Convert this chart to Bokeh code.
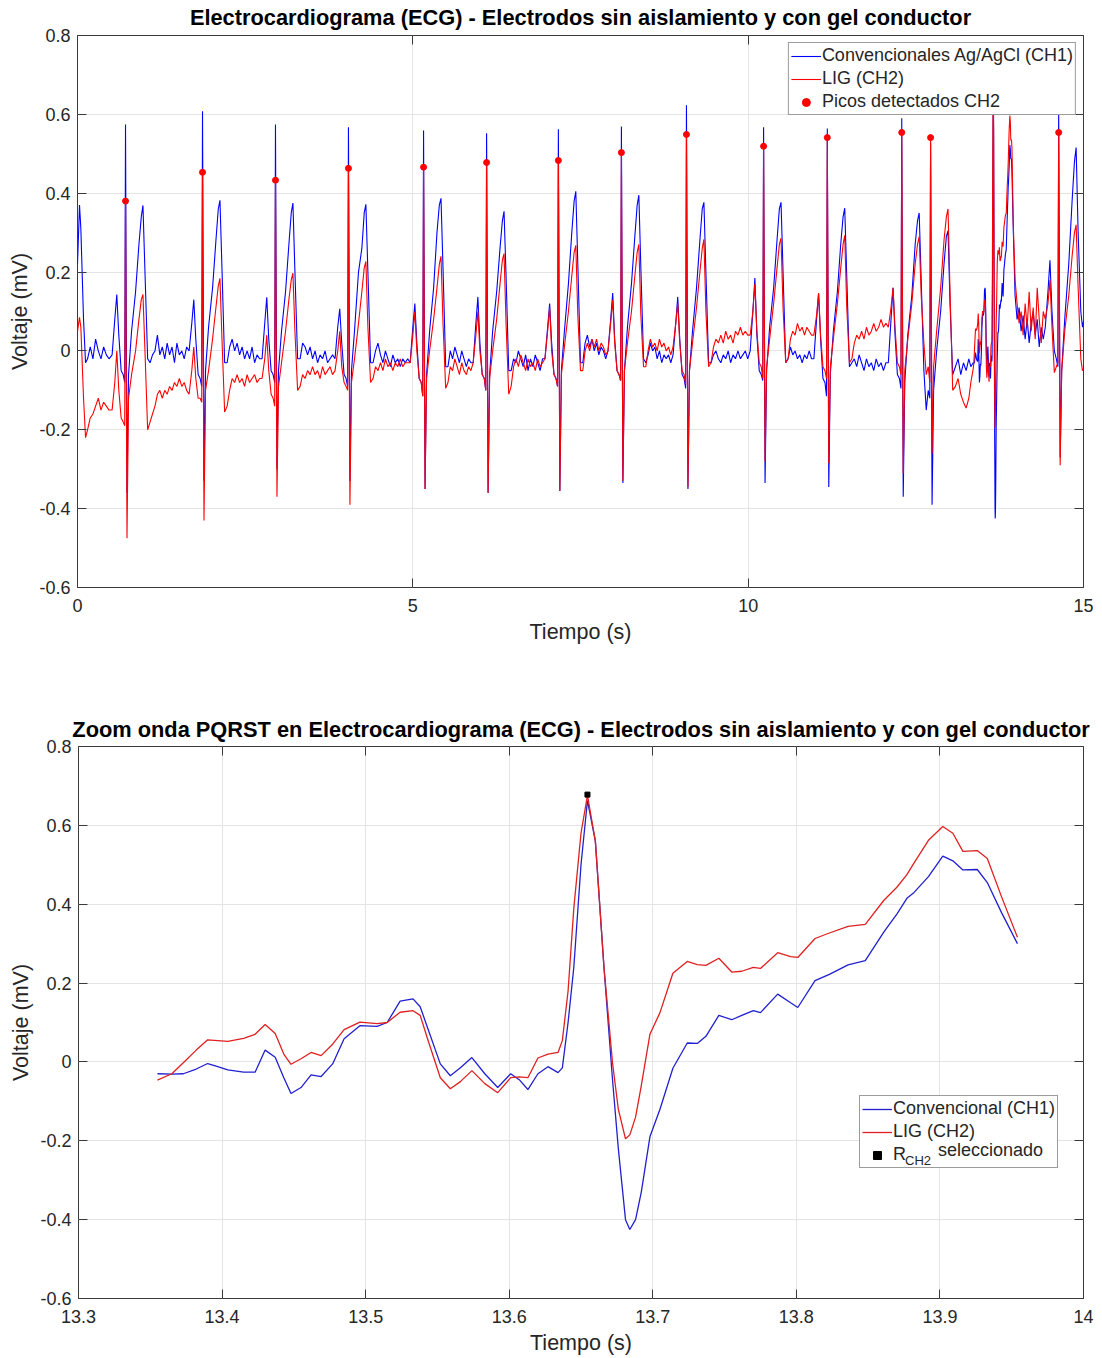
import numpy as np
from bokeh.plotting import figure
from bokeh.layouts import column, row
from bokeh.models import (Legend, LegendItem, LinearAxis, FixedTicker, Range1d, Title, Spacer)
from bokeh.embed import file_html
from bokeh.resources import INLINE

# ------------------------------------------------------------------ data
# start of record (before first R)
start_t = [0.00, 0.03, 0.05, 0.09, 0.12, 0.15, 0.19, 0.23, 0.27, 0.31, 0.35, 0.39, 0.43, 0.47]
start_ch1 = [0.22, 0.37, 0.31, 0.08, -0.03, -0.02, 0.01, -0.02, 0.03, 0.00, -0.02, 0.01, -0.01, -0.02]
start_ch2 = [0.05, 0.085, 0.06, -0.12, -0.22, -0.20, -0.17, -0.16, -0.14, -0.12, -0.15, -0.13, -0.14, -0.15]

# regular beats: R times and samples at fixed offsets around each R
r_times = [0.716, 1.864, 2.952, 4.04, 5.16, 6.10, 7.17, 8.11, 9.08, 10.23, 11.18]
beat_offsets = [-0.20, -0.16, -0.13, -0.10, -0.065, -0.035, -0.012, 0.0, 0.022, 0.045,
                0.09, 0.15, 0.20, 0.235, 0.26, 0.29, 0.33]
beats_ch1 = [
    [-0.01, 0.08, 0.143, 0.04, -0.05, -0.06, -0.08, 0.574, -0.36, -0.06, 0.05, 0.15, 0.27, 0.34, 0.369, 0.20, -0.02],
    [0.00, 0.07, 0.13, 0.03, -0.06, -0.07, -0.09, 0.608, -0.33, -0.05, 0.06, 0.16, 0.28, 0.36, 0.382, 0.21, -0.03],
    [-0.02, 0.07, 0.136, 0.03, -0.05, -0.06, -0.08, 0.574, -0.30, -0.05, 0.05, 0.15, 0.27, 0.35, 0.375, 0.20, -0.02],
    [-0.02, 0.06, 0.107, 0.02, -0.06, -0.07, -0.09, 0.567, -0.33, -0.05, 0.05, 0.20, 0.26, 0.35, 0.372, 0.20, -0.03],
    [-0.03, 0.06, 0.12, 0.02, -0.07, -0.08, -0.115, 0.559, -0.35, -0.06, 0.05, 0.16, 0.30, 0.37, 0.387, 0.21, -0.04],
    [-0.03, 0.07, 0.137, 0.02, -0.06, -0.07, -0.10, 0.552, -0.36, -0.06, 0.05, 0.15, 0.26, 0.33, 0.354, 0.19, -0.05],
    [-0.02, 0.06, 0.12, 0.02, -0.06, -0.07, -0.09, 0.562, -0.355, -0.05, 0.05, 0.17, 0.30, 0.38, 0.405, 0.22, -0.03],
    [0.00, 0.08, 0.147, 0.03, -0.05, -0.06, -0.075, 0.569, -0.335, -0.05, 0.06, 0.17, 0.29, 0.37, 0.395, 0.21, -0.02],
    [-0.01, 0.07, 0.137, 0.03, -0.06, -0.07, -0.095, 0.623, -0.35, -0.05, 0.05, 0.16, 0.28, 0.36, 0.377, 0.20, -0.03],
    [0.00, 0.10, 0.185, 0.04, -0.05, -0.06, -0.075, 0.567, -0.335, -0.05, 0.06, 0.16, 0.28, 0.36, 0.377, 0.20, -0.03],
    [-0.02, 0.08, 0.146, 0.03, -0.07, -0.08, -0.115, 0.564, -0.345, -0.06, 0.05, 0.15, 0.27, 0.34, 0.362, 0.19, -0.04],
]
beats_ch2 = [
    [-0.15, -0.08, 0.00, -0.10, -0.17, -0.18, -0.19, 0.38, -0.475, -0.12, -0.06, 0.00, 0.08, 0.13, 0.143, 0.00, -0.20],
    [-0.11, -0.05, 0.01, -0.07, -0.12, -0.12, -0.13, 0.453, -0.43, -0.10, -0.05, 0.03, 0.11, 0.165, 0.184, 0.03, -0.155],
    [-0.07, -0.02, 0.04, -0.05, -0.11, -0.12, -0.14, 0.433, -0.37, -0.09, -0.03, 0.05, 0.13, 0.18, 0.197, 0.05, -0.10],
    [-0.05, 0.00, 0.05, -0.04, -0.08, -0.09, -0.10, 0.463, -0.39, -0.08, -0.02, 0.07, 0.15, 0.21, 0.227, 0.06, -0.08],
    [-0.03, 0.04, 0.10, 0.00, -0.07, -0.08, -0.115, 0.466, -0.35, -0.07, 0.00, 0.08, 0.16, 0.22, 0.24, 0.07, -0.095],
    [-0.03, 0.04, 0.10, 0.00, -0.06, -0.07, -0.10, 0.478, -0.36, -0.07, 0.00, 0.08, 0.17, 0.23, 0.247, 0.07, -0.11],
    [-0.02, 0.05, 0.11, 0.00, -0.06, -0.07, -0.09, 0.483, -0.355, -0.06, 0.01, 0.10, 0.19, 0.25, 0.268, 0.09, -0.05],
    [0.00, 0.07, 0.13, 0.02, -0.05, -0.06, -0.075, 0.503, -0.33, -0.05, 0.02, 0.10, 0.19, 0.25, 0.27, 0.09, -0.04],
    [0.01, 0.07, 0.12, 0.02, -0.05, -0.06, -0.085, 0.549, -0.345, -0.05, 0.02, 0.11, 0.20, 0.26, 0.283, 0.10, -0.04],
    [0.04, 0.10, 0.17, 0.05, -0.03, -0.04, -0.07, 0.519, -0.28, -0.04, 0.03, 0.12, 0.21, 0.27, 0.286, 0.11, -0.03],
    [0.04, 0.09, 0.146, 0.04, -0.04, -0.05, -0.07, 0.541, -0.285, -0.04, 0.03, 0.12, 0.21, 0.27, 0.293, 0.11, -0.03],
]
# baseline samples between consecutive beats (evenly spaced in each gap)
gaps_ch1 = [
    [-0.03, -0.01, 0.00, 0.04, -0.01, 0.01, -0.02, 0.02, -0.01, 0.01, -0.03, 0.02, -0.01, 0.00, -0.02, 0.01],
    [-0.03, 0.01, 0.03, 0.00, 0.02, -0.01, 0.01, -0.02, 0.00, -0.02, 0.01, -0.03, -0.01, -0.02],
    [-0.02, 0.02, 0.01, -0.01, 0.01, -0.02, 0.00, -0.03, -0.01, -0.02, 0.00, -0.03, -0.02, -0.01],
    [-0.03, 0.00, 0.02, -0.01, -0.03, 0.00, -0.02, -0.04, -0.01, -0.03, -0.02, -0.04, -0.02, -0.03, -0.02],
    [-0.04, 0.00, -0.02, 0.01, -0.01, -0.03, 0.00, -0.02, -0.04, -0.02, -0.03],
    [-0.05, -0.02, -0.03, 0.00, -0.02, -0.04, -0.01, -0.05, -0.02, -0.04, -0.01, -0.03, -0.05, -0.02],
    [-0.03, 0.02, 0.04, 0.01, 0.03, 0.00, 0.02, -0.01, 0.01, 0.00, -0.02],
    [-0.03, -0.01, 0.02, 0.00, 0.01, -0.02, 0.00, -0.03, -0.01, -0.02, -0.01, -0.03],
    [-0.03, -0.01, 0.00, -0.02, -0.03, -0.01, -0.02, 0.00, -0.03, -0.01, -0.02, 0.00, -0.02, -0.01, 0.00, -0.02],
    [-0.02, 0.01, -0.01, 0.00, -0.02, -0.01, -0.03, -0.01, -0.02, 0.00, -0.02],
    [-0.03, -0.02, -0.04, -0.01, -0.03, -0.05, -0.02, -0.04, -0.03, -0.05, -0.02, -0.04, -0.03, -0.05, -0.03],
]
gaps_ch2 = [
    [-0.18, -0.16, -0.14, -0.11, -0.10, -0.12, -0.10, -0.11, -0.09, -0.10, -0.08, -0.09, -0.07, -0.09, -0.08, -0.10],
    [-0.14, -0.10, -0.07, -0.08, -0.06, -0.08, -0.07, -0.09, -0.06, -0.08, -0.07, -0.06, -0.08, -0.07],
    [-0.09, -0.06, -0.07, -0.05, -0.06, -0.04, -0.06, -0.05, -0.07, -0.04, -0.06, -0.05, -0.04, -0.06],
    [-0.07, -0.04, -0.05, -0.03, -0.05, -0.02, -0.04, -0.03, -0.05, -0.03, -0.04, -0.02, -0.04, -0.03, -0.03],
    [-0.08, -0.04, -0.05, -0.02, -0.04, -0.06, -0.03, -0.05, -0.06, -0.04, -0.05],
    [-0.09, -0.04, -0.02, -0.04, -0.01, -0.03, -0.05, -0.02, -0.04, -0.03, -0.05, -0.02, -0.04, -0.03],
    [-0.05, 0.00, 0.02, 0.00, 0.03, 0.01, 0.03, 0.00, 0.02, 0.01, -0.01],
    [-0.04, 0.00, 0.03, 0.01, 0.02, 0.00, 0.03, 0.01, 0.02, 0.00, 0.01, -0.01],
    [-0.03, 0.01, 0.03, 0.02, 0.04, 0.02, 0.05, 0.03, 0.04, 0.02, 0.05, 0.04, 0.06, 0.04, 0.05, 0.04],
    [-0.02, 0.03, 0.05, 0.04, 0.07, 0.05, 0.06, 0.04, 0.06, 0.05, 0.04],
    [-0.02, 0.02, 0.04, 0.03, 0.05, 0.03, 0.06, 0.04, 0.05, 0.07, 0.05, 0.06, 0.08, 0.06, 0.07],
]
# beats 12 and 13 (premature) and the baseline after them
mid_t = [12.09, 12.13, 12.16, 12.19, 12.225, 12.255, 12.278, 12.29, 12.312, 12.335, 12.38, 12.44, 12.49,
         12.525, 12.55, 12.58, 12.62, 12.655, 12.685, 12.708, 12.72, 12.742, 12.765, 12.81, 12.87, 12.92,
         12.955, 12.98, 13.01, 13.05, 13.09, 13.13, 13.17, 13.21, 13.25, 13.29, 13.32]
mid_ch1 = [-0.03, 0.08, 0.16, 0.04, -0.06, -0.07, -0.095, 0.59, -0.37, -0.08, 0.04, 0.14, 0.27, 0.33, 0.35,
           0.18, -0.05, -0.15, -0.10, -0.12, 0.53, -0.39, -0.10, 0.00, 0.10, 0.22, 0.29, 0.305, 0.12, -0.06,
           -0.04, -0.02, -0.06, -0.03, -0.05, -0.02, -0.04]
mid_ch2 = [0.06, 0.11, 0.16, 0.06, -0.03, -0.04, -0.06, 0.554, -0.31, -0.05, 0.03, 0.12, 0.22, 0.27, 0.29,
           0.14, 0.02, -0.06, -0.04, -0.08, 0.541, -0.26, -0.04, 0.05, 0.16, 0.28, 0.34, 0.36, 0.15, -0.10,
           -0.09, -0.07, -0.11, -0.13, -0.145, -0.12, -0.08]
# PQRST wave shown in the zoom
zoom_t = [13.355, 13.365, 13.373, 13.382, 13.390, 13.397, 13.404, 13.415, 13.423, 13.430, 13.437, 13.443,
          13.448, 13.455, 13.462, 13.469, 13.477, 13.485, 13.496, 13.508, 13.515, 13.524, 13.533, 13.538,
          13.543, 13.552, 13.559, 13.566, 13.574, 13.583, 13.592, 13.601, 13.607, 13.613, 13.620, 13.627,
          13.634, 13.637, 13.641, 13.645, 13.650, 13.6545, 13.660, 13.666, 13.672, 13.676, 13.681, 13.684,
          13.688, 13.692, 13.698, 13.705, 13.714, 13.724, 13.731, 13.737, 13.746, 13.755, 13.762, 13.770,
          13.775, 13.787, 13.796, 13.801, 13.813, 13.823, 13.836, 13.848, 13.861, 13.870, 13.877, 13.882,
          13.892, 13.902, 13.909, 13.916, 13.926, 13.933, 13.943, 13.954]
zoom_ch1 = [-0.030, -0.031, -0.030, -0.018, -0.004, -0.012, -0.020, -0.026, -0.026, 0.030, 0.012, -0.040,
            -0.080, -0.065, -0.033, -0.037, -0.005, 0.059, 0.092, 0.090, 0.100, 0.154, 0.160, 0.140,
            0.088, -0.005, -0.035, -0.015, 0.011, -0.030, -0.065, -0.030, -0.045, -0.070, -0.030, -0.012,
            -0.027, -0.015, 0.100, 0.240, 0.500, 0.663, 0.560, 0.240, -0.047, -0.220, -0.400, -0.425,
            -0.400, -0.330, -0.190, -0.120, -0.016, 0.048, 0.047, 0.065, 0.118, 0.107, 0.118, 0.130,
            0.125, 0.172, 0.150, 0.138, 0.206, 0.222, 0.246, 0.257, 0.330, 0.375, 0.415, 0.430,
            0.470, 0.522, 0.510, 0.487, 0.488, 0.455, 0.378, 0.300]
zoom_ch2 = [-0.046, -0.030, -0.002, 0.030, 0.056, 0.054, 0.052, 0.060, 0.070, 0.095, 0.072, 0.020,
            -0.006, 0.008, 0.024, 0.016, 0.045, 0.082, 0.101, 0.097, 0.100, 0.126, 0.130, 0.118,
            0.060, -0.040, -0.068, -0.050, -0.022, -0.055, -0.078, -0.040, -0.038, -0.040, 0.010, 0.020,
            0.024, 0.054, 0.180, 0.390, 0.580, 0.676, 0.560, 0.240, -0.004, -0.120, -0.195, -0.185,
            -0.140, -0.060, 0.070, 0.125, 0.225, 0.255, 0.247, 0.245, 0.263, 0.228, 0.230, 0.240,
            0.237, 0.277, 0.267, 0.265, 0.313, 0.327, 0.344, 0.349, 0.410, 0.443, 0.475, 0.505,
            0.562, 0.597, 0.580, 0.534, 0.536, 0.516, 0.418, 0.316]
# baseline after the zoomed beat
late_t = [13.98, 14.01, 14.04, 14.07, 14.10, 14.13, 14.16, 14.19, 14.22, 14.25, 14.28, 14.31, 14.34, 14.37, 14.40]
late_ch1 = [0.14, 0.08, 0.11, 0.05, 0.09, 0.03, 0.08, 0.02, 0.07, 0.10, 0.04, 0.08, 0.01, 0.06, 0.03]
late_ch2 = [0.18, 0.12, 0.07, 0.10, 0.04, 0.12, 0.06, 0.15, 0.05, 0.11, 0.03, 0.16, 0.08, 0.02, 0.10]
# last beat
last_r = 14.63
last_ch1 = [0.06, 0.15, 0.23, 0.10, 0.00, -0.02, -0.04, 0.615, -0.27, -0.05, 0.08, 0.22, 0.38, 0.48, 0.516, 0.30, 0.10]
last_ch2 = [0.08, 0.12, 0.18, 0.06, -0.055, -0.04, -0.03, 0.554, -0.29, -0.05, 0.05, 0.14, 0.24, 0.30, 0.32, 0.16, -0.02]
end_t = [14.985, 15.0]
end_ch1 = [0.06, 0.075]
end_ch2 = [-0.05, -0.045]

# detected R peaks on CH2
peaks_t = [0.716, 1.864, 2.952, 4.04, 5.16, 6.10, 7.17, 8.11, 9.08, 10.23, 11.18, 12.29, 12.72, 13.6545, 14.63]
peaks_v = [0.38, 0.453, 0.433, 0.463, 0.466, 0.478, 0.483, 0.503, 0.549, 0.519, 0.541, 0.554, 0.541, 0.676, 0.554]
# selected R of CH2 in the zoom
sel_t = [13.6545]
sel_v = [0.678]

y_ticks = [-0.6, -0.4, -0.2, 0, 0.2, 0.4, 0.6, 0.8]
y_labels = {-0.6: "-0.6", -0.4: "-0.4", -0.2: "-0.2", 0: "0", 0.2: "0.2", 0.4: "0.4", 0.6: "0.6", 0.8: "0.8"}
x_ticks_top = [0, 5, 10, 15]
x_ticks_zoom = [13.3, 13.4, 13.5, 13.6, 13.7, 13.8, 13.9, 14.0]
x_labels_zoom = {13.3: "13.3", 13.4: "13.4", 13.5: "13.5", 13.6: "13.6", 13.7: "13.7",
                 13.8: "13.8", 13.9: "13.9", 14.0: "14"}

# ------------------------------------------------------------------ assemble full record
T, C1, C2 = list(start_t), list(start_ch1), list(start_ch2)
for i, r in enumerate(r_times):
    T += [r + o for o in beat_offsets]
    C1 += beats_ch1[i]
    C2 += beats_ch2[i]
    g0 = r + beat_offsets[-1]
    g1 = r_times[i + 1] + beat_offsets[0] if i + 1 < len(r_times) else mid_t[0]
    n = len(gaps_ch1[i])
    T += list(np.linspace(g0, g1, n + 2)[1:-1])
    C1 += gaps_ch1[i]
    C2 += gaps_ch2[i]
T += mid_t + zoom_t + late_t + [last_r + o for o in beat_offsets] + end_t
C1 += mid_ch1 + zoom_ch1 + late_ch1 + last_ch1 + end_ch1
C2 += mid_ch2 + zoom_ch2 + late_ch2 + last_ch2 + end_ch2

# ------------------------------------------------------------------ styling helpers
FONT = "Liberation Sans"
AX = "#3a3a3a"
TXT = "#262626"
GRID = "#e4e4e4"


def style(p, xticks, xlabels=None):
    p.outline_line_color = AX
    p.outline_line_width = 1
    p.background_fill_color = "white"
    p.border_fill_color = "white"
    xax = p.below[0]
    yax = p.left[0]
    for ax in (xax, yax):
        ax.axis_line_color = None
        ax.major_tick_in = 9
        ax.major_tick_out = 0
        ax.minor_tick_line_color = None
        ax.major_tick_line_color = AX
        ax.major_label_text_font = FONT
        ax.major_label_text_font_size = "18px"
        ax.major_label_text_color = TXT
        ax.axis_label_text_font = FONT
        ax.axis_label_text_font_size = "21.5px"
        ax.axis_label_text_font_style = "normal"
        ax.axis_label_text_color = TXT
    xax.axis_label = "Tiempo (s)"
    yax.axis_label = "Voltaje (mV)"
    xax.ticker = FixedTicker(ticks=xticks)
    if xlabels:
        xax.major_label_overrides = xlabels
    yax.ticker = FixedTicker(ticks=y_ticks)
    yax.major_label_overrides = y_labels
    xax.major_label_standoff = 11
    yax.major_label_standoff = 7
    xax.axis_label_standoff = 5
    yax.axis_label_standoff = 4
    p.xgrid.ticker = FixedTicker(ticks=xticks)
    p.ygrid.ticker = FixedTicker(ticks=y_ticks)
    p.xgrid.grid_line_color = GRID
    p.ygrid.grid_line_color = GRID
    # box ticks on top and right (no labels)
    top = LinearAxis(ticker=FixedTicker(ticks=xticks), major_label_text_font_size="1px",
                     major_label_text_color=None, major_label_standoff=0,
                     major_tick_in=9, major_tick_out=0,
                     minor_tick_line_color=None, axis_line_color=None, major_tick_line_color=AX)
    right = LinearAxis(ticker=FixedTicker(ticks=y_ticks), major_label_text_font_size="1px",
                       major_label_text_color=None, major_label_standoff=0,
                       major_tick_in=9, major_tick_out=0,
                       minor_tick_line_color=None, axis_line_color=None, major_tick_line_color=AX)
    p.add_layout(top, "above")
    p.add_layout(right, "right")


def add_title(p, text, standoff, valign):
    t = Title(text=text, align="center", text_font=FONT, text_font_size="21.8px",
              text_font_style="bold", text_color="black", standoff=standoff, vertical_align=valign)
    p.add_layout(t, "above")


def text_legend(p, txt, size, x, y, h, renderer):
    # transparent legend used only to place a text over the legend box
    lg = Legend(items=[LegendItem(label=txt, renderers=[renderer])], location=(x, y),
                padding=0, spacing=0, margin=0, glyph_width=0, glyph_height=h, label_height=h,
                label_standoff=0, label_text_font=FONT, label_text_font_size=size,
                label_text_color=TXT, border_line_color=None, background_fill_alpha=0.0)
    p.add_layout(lg, "center")


# ------------------------------------------------------------------ top figure
p1 = figure(frame_width=1006, frame_height=552, x_range=Range1d(0, 15), y_range=Range1d(-0.6, 0.8),
            output_backend="svg", toolbar_location=None, title=None,
            min_border_left=62, min_border_right=11, min_border_top=30, min_border_bottom=73)
style(p1, x_ticks_top)
add_title(p1, "Electrocardiograma (ECG) - Electrodos sin aislamiento y con gel conductor", 8, "top")

l1 = p1.line(T, C1, line_color="#0000ff", line_width=1.1)
l2 = p1.line(T, C2, line_color="#ff0000", line_width=1.1)
s1 = p1.scatter(peaks_t, peaks_v, marker="circle", size=6, fill_color="#ff0000", line_color="#ff0000")

leg1 = Legend(items=[LegendItem(label="Convencionales Ag/AgCl (CH1)", renderers=[l1]),
                     LegendItem(label="LIG (CH2)", renderers=[l2]),
                     LegendItem(label="Picos detectados CH2", renderers=[s1])],
              location="top_right", margin=7, padding=2, spacing=2,
              glyph_width=30, glyph_height=20, label_height=20, label_standoff=1,
              label_text_font=FONT, label_text_font_size="18px", label_text_color=TXT,
              border_line_color=AX, border_line_width=1, background_fill_alpha=1.0)
p1.add_layout(leg1, "center")

# ------------------------------------------------------------------ zoom figure
p2 = figure(frame_width=1005, frame_height=552, x_range=Range1d(13.3, 14.0), y_range=Range1d(-0.6, 0.8),
            output_backend="svg", toolbar_location=None, title=None,
            min_border_left=62, min_border_right=11, min_border_top=86, min_border_bottom=50)
style(p2, x_ticks_zoom, x_labels_zoom)
add_title(p2, "Zoom onda PQRST en Electrocardiograma (ECG) - Electrodos sin aislamiento y con gel conductor",
          10, "bottom")

z1 = p2.line(zoom_t, zoom_ch1, line_color="#2020d0", line_width=1.3)
z2 = p2.line(zoom_t, zoom_ch2, line_color="#e02020", line_width=1.3)
zs = p2.scatter(sel_t, sel_v, marker="square", size=5, fill_color="black", line_color="black")
ghost = p2.scatter([], [], marker="circle", size=0, fill_alpha=0, line_alpha=0)

leg2 = Legend(items=[LegendItem(label="Convencional (CH1)", renderers=[z1]),
                     LegendItem(label="LIG (CH2)", renderers=[z2]),
                     LegendItem(label="R", renderers=[zs])],
              location=(781, 130), padding=2, spacing=2,
              glyph_width=30, glyph_height=20, label_height=20, label_standoff=1,
              label_text_font=FONT, label_text_font_size="18px", label_text_color=TXT,
              border_line_color=AX, border_line_width=1, background_fill_alpha=1.0)
p2.add_layout(leg2, "center")
# subscript "CH2" and the rest of the third legend entry
text_legend(p2, "CH2", "13px", 827, 130, 14, ghost)
text_legend(p2, "seleccionado", "18px", 860, 137, 20, ghost)

layout = column(row(Spacer(width=5), p1), row(Spacer(width=6), p2), spacing=0)
open("out.html", "w").write(file_html(layout, INLINE))
